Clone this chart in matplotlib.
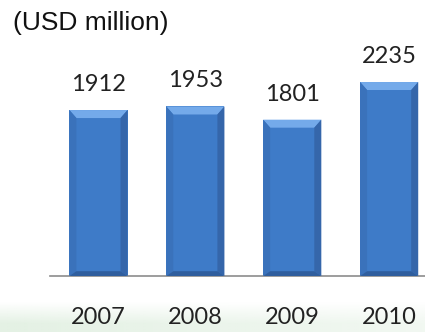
import numpy as np
import matplotlib
matplotlib.use("Agg")
import matplotlib.pyplot as plt
from matplotlib.patches import Polygon

years = ["2007", "2008", "2009", "2010"]
revenue = [1912, 1953, 1801, 2235]

W, H = 425, 332
fig = plt.figure(figsize=(W / 100, H / 100), dpi=100)

# faint green band along the bottom edge, fading upward and to the right
band = fig.add_axes([0, 0, 1, 30 / H])
band.axis("off")
fade_up = np.clip(np.linspace(1.4, 0, 40), 0, 1).reshape(-1, 1)
fade_right = np.linspace(1.0, 0.5, 200).reshape(1, -1)
rgba = np.zeros((40, 200, 4))
rgba[..., 0] = 0xe4 / 255
rgba[..., 1] = 0xf1 / 255
rgba[..., 2] = 0xe4 / 255
rgba[..., 3] = np.clip(fade_up * fade_right, 0, 1)
band.imshow(rgba, aspect="auto", extent=[0, 1, 0, 1], origin="lower")
band.set_xlim(0, 1)
band.set_ylim(0, 1)

ax = fig.add_axes([50 / W, 56 / H, 1 - 50 / W, 236 / H])
x = np.arange(len(years))
bars = ax.bar(x, revenue, width=0.6, color="#3e7bc8", zorder=2)
ax.set_xlim(-0.5, 3.37)
ax.set_ylim(0, 2719)

# bevelled look: lighter top edge, darker sides and bottom
px_x = 0.6 / 58 * 7   # bevel width in data units
px_y = 2719 / 236 * 8
for b in bars:
    x0, x1 = b.get_x(), b.get_x() + b.get_width()
    top = b.get_height()
    ax.add_patch(Polygon([(x0, top), (x1, top), (x1 - px_x, top - px_y), (x0 + px_x, top - px_y)],
                         closed=True, color="#74aaea", lw=0, zorder=3))
    ax.add_patch(Polygon([(x0, top), (x0 + px_x, top - px_y), (x0 + px_x, px_y * 0.6), (x0, 0)],
                         closed=True, color="#3a72bb", lw=0, zorder=3))
    ax.add_patch(Polygon([(x1, top), (x1 - px_x, top - px_y), (x1 - px_x, px_y * 0.6), (x1, 0)],
                         closed=True, color="#3566aa", lw=0, zorder=3))
    ax.add_patch(Polygon([(x0, 0), (x1, 0), (x1 - px_x, px_y * 0.6), (x0 + px_x, px_y * 0.6)],
                         closed=True, color="#2f5e9e", lw=0, zorder=3))
    ax.text(b.get_x() + b.get_width() / 2, top + 2719 / 236 * 15, str(int(top)),
            ha="center", va="bottom", fontsize=17, family="Lato", color="#222222")

for s in ["top", "right", "left"]:
    ax.spines[s].set_visible(False)
ax.spines["bottom"].set_color("#8c8c8c")
ax.spines["bottom"].set_linewidth(1.2)
ax.set_yticks([])
ax.set_xticks(x)
ax.set_xticklabels(years, fontsize=17, family="Lato", color="#222222")
ax.tick_params(axis="x", length=0, pad=22)

fig.text(13 / W, 1 - 23 / H, "(USD million)", fontsize=19, family="Liberation Sans",
         va="center", ha="left", color="#111111")

fig.savefig("out.png", dpi=100)
